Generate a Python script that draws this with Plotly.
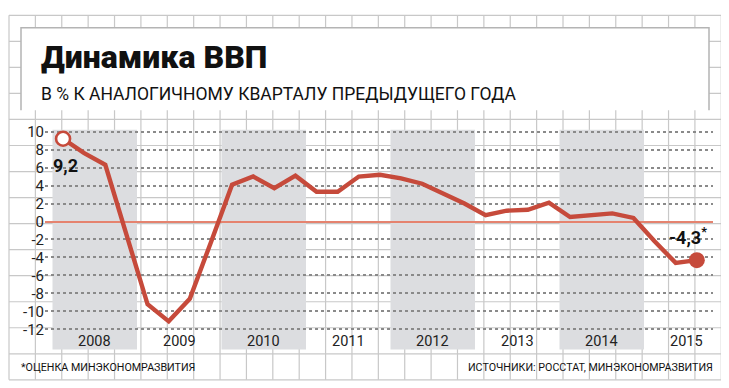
import plotly.graph_objects as go

# ---------------- data ----------------
years = [2008, 2009, 2010, 2011, 2012, 2013, 2014, 2015]
shaded_years = [2008, 2010, 2012, 2014]
quarters = [1, 2, 3, 4]
gdp_growth = [
    9.2, 7.6, 6.3, -1.3,      # 2008
    -9.2, -11.1, -8.6, -2.3,  # 2009
    4.1, 5.0, 3.7, 5.1,       # 2010
    3.3, 3.3, 5.0, 5.2,       # 2011
    4.8, 4.2, 3.1, 2.0,       # 2012
    0.7, 1.2, 1.3, 2.1,       # 2013
    0.5, 0.7, 0.9, 0.4,       # 2014
    -2.2, -4.6, -4.3,         # 2015
]
y_ticks = [10, 8, 6, 4, 2, 0, -2, -4, -6, -8, -10, -12]
y_tick_labels = ["10", "8", "6", "4", "2", "0", "-2", "-4", "-6", "-8", "-10", "-12"]
year_labels = [str(y) for y in years]
first_label = "9,2"
last_label = "-4,3<sup>*</sup>"
title_text = "Динамика ВВП"
subtitle_text = "В % К АНАЛОГИЧНОМУ КВАРТАЛУ ПРЕДЫДУЩЕГО ГОДА"
note_text = "*ОЦЕНКА МИНЭКОНОМРАЗВИТИЯ"
source_text = "ИСТОЧНИКИ: РОССТАТ, МИНЭКОНОМРАЗВИТИЯ"

# ---------------- styling ----------------
PAGE_OFFSET = 8          # the page body margin shifts the figure by 8px
W, H = 729 - PAGE_OFFSET, 388 - PAGE_OFFSET
RED = "#c64a3b"
GRID = "#c8c8c8"
BAND = "#dcdde0"
FONT = "Roboto, 'Liberation Sans', sans-serif"

def fx(px):
    return (px - PAGE_OFFSET) / W

def fy(py):
    return 1 - (py - PAGE_OFFSET) / H

x_pos = [y + (q - 0.5) / 4 for y in years for q in quarters][:len(gdp_growth)]

fig = go.Figure()

fig.add_trace(go.Scatter(
    x=x_pos, y=gdp_growth, mode="lines",
    line=dict(color=RED, width=4.4), hoverinfo="skip", showlegend=False,
))
fig.add_trace(go.Scatter(
    x=[x_pos[0]], y=[gdp_growth[0]], mode="markers",
    marker=dict(size=14, color="white", line=dict(color=RED, width=2.6)),
    showlegend=False, hoverinfo="skip",
))
fig.add_trace(go.Scatter(
    x=[x_pos[-1]], y=[gdp_growth[-1]], mode="markers",
    marker=dict(size=16, color=RED, line=dict(width=0)),
    showlegend=False, hoverinfo="skip",
))

shapes = []
# graph-paper background
gx0, gx1, gy0, gy1 = 9.0, 721.3, 8.3, 379.7
nx, ny = 27, 14
for k in range(nx + 1):
    x = gx0 + k * (gx1 - gx0) / nx
    shapes.append(dict(type="line", xref="paper", yref="paper",
                       x0=fx(x), x1=fx(x), y0=fy(gy0), y1=fy(gy1),
                       line=dict(color=GRID, width=1.2), layer="below"))
for k in range(ny + 1):
    y = gy0 + k * (gy1 - gy0) / ny
    shapes.append(dict(type="line", xref="paper", yref="paper",
                       x0=fx(gx0), x1=fx(gx1), y0=fy(y), y1=fy(y),
                       line=dict(color=GRID, width=1.2), layer="below"))
# white title box
shapes.append(dict(type="rect", xref="paper", yref="paper",
                   x0=fx(21), x1=fx(709), y0=fy(105), y1=fy(21),
                   fillcolor="white", line=dict(width=0), layer="below"))
shapes.append(dict(type="path", xref="paper", yref="paper",
                   path=f"M{fx(21)},{fy(105)} L{fx(21)},{fy(21)} L{fx(709)},{fy(21)} L{fx(709)},{fy(105)}",
                   line=dict(color="#b4b4b4", width=1.5), layer="below"))
# shaded years
for yr in shaded_years:
    shapes.append(dict(type="rect", xref="x", yref="y domain",
                       x0=yr, x1=yr + 1, y0=0, y1=1,
                       fillcolor=BAND, line=dict(width=0), layer="below"))

annotations = []
annotations.append(dict(text=title_text, xref="paper", yref="paper",
                        x=fx(39), y=fy(51), xanchor="left", yanchor="middle",
                        showarrow=False,
                        font=dict(family=FONT, size=32, color="#111", weight=900)))
annotations.append(dict(text=subtitle_text, xref="paper", yref="paper",
                        x=fx(39), y=fy(88), xanchor="left", yanchor="middle",
                        showarrow=False,
                        font=dict(family=FONT, size=17.5, color="#111")))
annotations.append(dict(text=note_text, xref="paper", yref="paper",
                        x=fx(19), y=fy(367), xanchor="left", yanchor="middle",
                        showarrow=False,
                        font=dict(family=FONT, size=10.7, color="#111")))
annotations.append(dict(text=source_text, xref="paper", yref="paper",
                        x=fx(715), y=fy(367), xanchor="right", yanchor="middle",
                        showarrow=False,
                        font=dict(family=FONT, size=10.7, color="#111")))
for yr, lab in zip(years, year_labels):
    annotations.append(dict(text=lab, xref="x", yref="y",
                            x=yr + 0.5, y=-13.37, xanchor="center", yanchor="middle",
                            showarrow=False,
                            font=dict(family=FONT, size=14.5, color="#222")))
annotations.append(dict(text=first_label, xref="x", yref="y",
                        x=x_pos[0], y=gdp_growth[0], xshift=-12, yshift=-27,
                        xanchor="left", yanchor="middle", showarrow=False,
                        font=dict(family=FONT, size=18, color="#111", weight="bold")))
annotations.append(dict(text=last_label, xref="x", yref="y",
                        x=x_pos[-1], y=gdp_growth[-1], xshift=-9, yshift=24,
                        xanchor="center", yanchor="middle", showarrow=False,
                        font=dict(family=FONT, size=18, color="#111", weight="bold")))

px_per_year = 84.5
x_origin = 52.5
fig.update_layout(
    width=W, height=H,
    margin=dict(l=0, r=0, t=0, b=0),
    paper_bgcolor="white", plot_bgcolor="rgba(0,0,0,0)",
    shapes=shapes, annotations=annotations,
    xaxis=dict(domain=[fx(45), fx(713)],
               range=[2008 - (x_origin - 45) / px_per_year, 2008 + (713 - x_origin) / px_per_year],
               showgrid=False, zeroline=False, showticklabels=False, ticks="",
               showline=False, fixedrange=True),
    yaxis=dict(domain=[fy(348.7), fy(125)], range=[-14.22, 10.19],
               tickvals=y_ticks, ticktext=y_tick_labels,
               showgrid=True, griddash="dot", gridcolor="#8a8a8a", gridwidth=1.5,
               zeroline=True, zerolinecolor="#e5836f", zerolinewidth=2,
               ticks="", showline=False,
               tickfont=dict(family=FONT, size=15, color="#222"), fixedrange=True),
    showlegend=False,
)

fig.write_html("out.html")
